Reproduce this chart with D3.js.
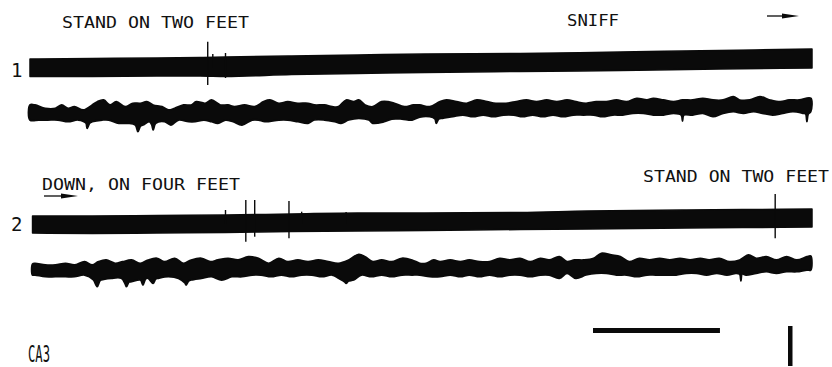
<!DOCTYPE html>
<html>
<head>
<meta charset="utf-8">
<script src="https://cdn.jsdelivr.net/npm/d3@7"></script>
<style>
  html, body { margin: 0; padding: 0; background: #fff; }
  svg { display: block; }
  text { font-family: "DejaVu Sans Mono", "Liberation Mono", monospace; fill: #111; }
</style>
</head>
<body>
<svg id="chart" width="832" height="367"></svg>
<script>
// ---- Recording data: time in seconds, potentials in microvolts ----

// Time span of each sweep (s)
const sweepSeconds = [0, 6.16];

// Row labels and behavioural annotations
const rowLabels = ["1", "2"];
const eventTexts = ["STAND ON TWO FEET", "SNIFF", "DOWN, ON FOUR FEET", "STAND ON TWO FEET"];
const regionLabel = "CA3";

// Calibration: 1 s and 400 µV
const calibTime = 1;
const calibVolt = 400;

// Fast (high-frequency) channel, envelope of the band
const fast1Times = [0, 0.49, 1.0, 1.34, 1.54, 2.06, 2.58, 3.11, 3.86, 4.65, 5.43, 6.16];
const fast1Upper = [90, 95, 100, 105, 110, 120, 130, 140, 145, 160, 175, 190];
const fast1Lower = [-85, -85, -80, -80, -85, -65, -55, -45, -35, -25, -10, 0];

const fast2Times = [0.02, 0.49, 1.0, 1.54, 2.06, 2.58, 3.11, 3.86, 4.39, 5.17, 5.69, 6.16];
const fast2Upper = [80, 80, 85, 90, 100, 110, 110, 115, 130, 140, 145, 150];
const fast2Lower = [-90, -95, -90, -85, -75, -70, -65, -55, -50, -40, -35, -30];

// Movement transients on the fast channel: [time, positive peak, negative peak]
const spikes1 = [[1.40, 263, -170], [1.44, 140, 0], [1.54, 150, -100]];
const spikes2 = [[1.54, 140, 0], [1.70, 240, -177], [1.77, 240, -127], [2.04, 230, -143],
                 [2.14, 123, 0], [2.49, 120, 0], [5.87, 300, -143]];

// Slow channel, upper and lower edges of the trace: [time, µV]
const slow1Upper = [[0,70],[0.04,70],[0.12,37],[0.2,37],[0.25,70],[0.30,37],[0.35,53],[0.42,20],[0.49,70],[0.53,103],[0.58,120],[0.63,70],[0.68,103],[0.75,53],[0.81,87],[0.87,87],[0.92,103],[0.97,70],[1.04,53],[1.09,20],[1.14,37],[1.21,70],[1.27,70],[1.31,103],[1.38,87],[1.43,120],[1.50,70],[1.56,70],[1.61,53],[1.69,70],[1.77,53],[1.84,103],[1.89,120],[1.96,87],[2.03,103],[2.11,87],[2.19,87],[2.24,70],[2.32,70],[2.38,53],[2.43,53],[2.49,120],[2.55,103],[2.59,120],[2.64,70],[2.70,53],[2.77,103],[2.82,103],[2.87,87],[2.95,53],[3.02,70],[3.07,70],[3.15,53],[3.23,103],[3.28,120],[3.36,103],[3.44,87],[3.52,120],[3.60,103],[3.67,87],[3.75,87],[3.83,103],[3.91,120],[3.99,103],[4.07,120],[4.15,103],[4.23,120],[4.30,103],[4.38,87],[4.46,103],[4.54,103],[4.62,120],[4.70,103],[4.78,137],[4.86,120],[4.91,137],[4.99,120],[5.07,103],[5.14,120],[5.22,120],[5.30,137],[5.38,120],[5.46,120],[5.54,153],[5.59,120],[5.67,120],[5.75,153],[5.83,120],[5.91,103],[5.98,120],[6.06,120],[6.15,137]];
const slow1Lower = [[0,-80],[0.07,-80],[0.14,-80],[0.22,-80],[0.30,-97],[0.38,-80],[0.44,-110],[0.45,-163],[0.47,-110],[0.49,-97],[0.57,-80],[0.62,-80],[0.70,-113],[0.77,-113],[0.83,-130],[0.85,-197],[0.87,-140],[0.89,-130],[0.94,-97],[0.96,-130],[0.97,-180],[0.99,-113],[1.06,-97],[1.11,-130],[1.17,-80],[1.25,-97],[1.30,-97],[1.37,-80],[1.43,-97],[1.48,-113],[1.54,-80],[1.60,-97],[1.67,-130],[1.75,-80],[1.80,-80],[1.85,-97],[1.96,-80],[2.03,-80],[2.11,-97],[2.19,-113],[2.24,-80],[2.32,-80],[2.40,-97],[2.45,-113],[2.51,-80],[2.59,-63],[2.67,-80],[2.70,-113],[2.79,-97],[2.85,-70],[2.93,-70],[3.01,-80],[3.07,-50],[3.15,-47],[3.19,-70],[3.20,-113],[3.22,-70],[3.25,-63],[3.33,-47],[3.41,-30],[3.49,-47],[3.57,-30],[3.65,-47],[3.73,-30],[3.81,-30],[3.88,-47],[3.96,-30],[4.04,-47],[4.12,-30],[4.20,-47],[4.28,-30],[4.36,-30],[4.44,-30],[4.51,-47],[4.59,-30],[4.67,-30],[4.75,-13],[4.83,-13],[4.91,-30],[4.99,-30],[5.07,-13],[5.13,-30],[5.14,-90],[5.15,-30],[5.22,-30],[5.30,-13],[5.38,-47],[5.46,-13],[5.54,3],[5.62,-13],[5.70,3],[5.77,-13],[5.85,-30],[5.93,-13],[6.01,3],[6.09,-13],[6.11,-20],[6.12,-97],[6.13,-20],[6.15,3]];

const slow2Upper = [[0.02,60],[0.04,67],[0.12,50],[0.20,50],[0.28,67],[0.35,50],[0.43,83],[0.49,50],[0.54,83],[0.60,100],[0.67,67],[0.73,83],[0.80,100],[0.87,67],[0.93,100],[1.00,117],[1.06,83],[1.14,117],[1.21,67],[1.27,100],[1.35,117],[1.42,83],[1.48,100],[1.56,117],[1.64,100],[1.72,133],[1.80,117],[1.88,67],[1.96,117],[2.03,83],[2.11,100],[2.19,83],[2.27,100],[2.35,83],[2.43,67],[2.51,100],[2.59,157],[2.64,133],[2.70,83],[2.77,100],[2.85,83],[2.93,117],[3.01,100],[3.07,67],[3.12,67],[3.18,100],[3.23,83],[3.31,100],[3.39,83],[3.46,100],[3.54,83],[3.62,83],[3.70,117],[3.78,100],[3.86,117],[3.94,83],[4.02,117],[4.09,100],[4.17,133],[4.23,83],[4.29,100],[4.36,100],[4.44,117],[4.50,167],[4.58,150],[4.65,133],[4.72,83],[4.80,117],[4.88,100],[4.96,117],[5.04,100],[5.12,117],[5.20,100],[5.28,117],[5.35,100],[5.43,117],[5.51,83],[5.59,100],[5.66,150],[5.72,117],[5.80,133],[5.88,100],[5.96,133],[6.04,100],[6.12,133],[6.15,140]];
const slow2Lower = [[0.02,-50],[0.04,-50],[0.12,-67],[0.20,-67],[0.28,-67],[0.35,-67],[0.43,-50],[0.50,-100],[0.52,-150],[0.53,-167],[0.55,-110],[0.56,-100],[0.64,-83],[0.72,-83],[0.75,-140],[0.76,-167],[0.78,-120],[0.80,-117],[0.87,-100],[0.89,-150],[0.91,-90],[0.93,-83],[0.97,-133],[0.99,-90],[1.01,-83],[1.09,-67],[1.17,-83],[1.22,-130],[1.23,-150],[1.25,-110],[1.27,-100],[1.35,-83],[1.43,-67],[1.51,-100],[1.59,-67],[1.67,-67],[1.75,-50],[1.82,-50],[1.90,-67],[1.98,-50],[2.06,-67],[2.14,-50],[2.22,-50],[2.30,-67],[2.38,-50],[2.43,-83],[2.48,-120],[2.49,-133],[2.51,-110],[2.55,-100],[2.61,-50],[2.69,-67],[2.77,-50],[2.85,-67],[2.93,-50],[3.01,-50],[3.07,-50],[3.15,-67],[3.23,-67],[3.31,-50],[3.39,-67],[3.46,-50],[3.54,-67],[3.62,-50],[3.70,-67],[3.78,-50],[3.86,-50],[3.94,-67],[4.02,-50],[4.09,-50],[4.17,-83],[4.23,-33],[4.30,-83],[4.38,-50],[4.46,-33],[4.54,-33],[4.62,-50],[4.70,-50],[4.78,-67],[4.86,-50],[4.93,-50],[5.01,-50],[5.09,-50],[5.17,-33],[5.25,-33],[5.33,-50],[5.41,-33],[5.49,-50],[5.56,-33],[5.59,-40],[5.60,-110],[5.61,-40],[5.64,-50],[5.72,-33],[5.80,-17],[5.88,-33],[5.96,-17],[6.04,-17],[6.12,0],[6.15,0]];

// ---- Drawing ----
const svg = d3.select("#chart");
const ink = "#0a0a0a";

const x = d3.scaleLinear().domain(sweepSeconds).range([30, 812]);
// vertical gain: 10 µV per pixel, each trace centred on its own baseline
const gainY = base => d3.scaleLinear().domain([-400, 400]).range([base + 40, base - 40]);

const traces = [
  { times: fast1Times, upper: fast1Upper, lower: fast1Lower, spikes: spikes1, y: gainY(68) },
  { times: fast2Times, upper: fast2Upper, lower: fast2Lower, spikes: spikes2, y: gainY(224) }
];
const slowTraces = [
  { upper: slow1Upper, lower: slow1Lower, y: gainY(112) },
  { upper: slow2Upper, lower: slow2Lower, y: gainY(270) }
];

// Fast channel: solid band between the envelope edges
traces.forEach(tr => {
  const pts = tr.times.map((t, i) => ({ t, hi: tr.upper[i], lo: tr.lower[i] }));
  const band = d3.area()
    .x(d => x(d.t))
    .y0(d => tr.y(d.lo))
    .y1(d => tr.y(d.hi))
    .curve(d3.curveMonotoneX);
  svg.append("path")
    .attr("d", band(pts))
    .attr("fill", ink)
    .attr("stroke", ink)
    .attr("stroke-width", 1.5)
    .attr("stroke-linejoin", "round");

  svg.append("g").selectAll("line")
    .data(tr.spikes)
    .join("line")
    .attr("x1", d => x(d[0]))
    .attr("x2", d => x(d[0]))
    .attr("y1", d => tr.y(d[1]))
    .attr("y2", d => tr.y(d[2]))
    .attr("stroke", ink)
    .attr("stroke-width", 1.4);
});

// Slow channel: closed outline following upper edge then lower edge back
slowTraces.forEach(tr => {
  const outline = tr.upper.concat(tr.lower.slice().reverse());
  const shape = d3.line()
    .x(d => x(d[0]))
    .y(d => tr.y(d[1]))
    .curve(d3.curveCatmullRomClosed.alpha(0.5));
  svg.append("path")
    .attr("d", shape(outline))
    .attr("fill", ink)
    .attr("stroke", ink)
    .attr("stroke-width", 1.8)
    .attr("stroke-linejoin", "round");
});

// Row numbers
svg.append("text").attr("x", 11).attr("y", 76.5).attr("font-size", 19).text(rowLabels[0]);
svg.append("text").attr("x", 11).attr("y", 231).attr("font-size", 19).attr("fill", "#444").text(rowLabels[1]);

// Behavioural annotations
const notes = [
  { text: eventTexts[0], x: 62, y: 28, w: 187 },
  { text: eventTexts[1], x: 567, y: 26, w: 52 },
  { text: eventTexts[2], x: 42, y: 190, w: 198 },
  { text: eventTexts[3], x: 643, y: 182, w: 186 }
];
svg.append("g").selectAll("text")
  .data(notes)
  .join("text")
  .attr("x", d => d.x)
  .attr("y", d => d.y)
  .attr("font-size", 15)
  .attr("textLength", d => d.w)
  .attr("lengthAdjust", "spacingAndGlyphs")
  .text(d => d.text);

// Arrows marking the direction of movement
function arrow(x0, x1, headStart, y) {
  svg.append("line").attr("x1", x0).attr("x2", headStart).attr("y1", y).attr("y2", y)
    .attr("stroke", ink).attr("stroke-width", 1.3);
  svg.append("path")
    .attr("d", `M${headStart},${y - 2.5}L${x1},${y}L${headStart},${y + 2.5}Z`)
    .attr("fill", ink);
}
arrow(767, 799, 782, 16);
arrow(44, 78, 61, 196);

// Region label
svg.append("text").attr("x", 28).attr("y", 362).attr("font-size", 23)
  .attr("textLength", 22).attr("lengthAdjust", "spacingAndGlyphs").text(regionLabel);

// Calibration bars
const tStart = x.invert(593);
svg.append("rect")
  .attr("x", x(tStart)).attr("width", x(tStart + calibTime) - x(tStart))
  .attr("y", 328).attr("height", 5).attr("fill", ink);
const yCal = d3.scaleLinear().domain([0, calibVolt]).range([366, 326]);
svg.append("rect")
  .attr("x", 788).attr("width", 4.5)
  .attr("y", yCal(calibVolt)).attr("height", yCal(0) - yCal(calibVolt))
  .attr("fill", ink);
</script>
</body>
</html>
